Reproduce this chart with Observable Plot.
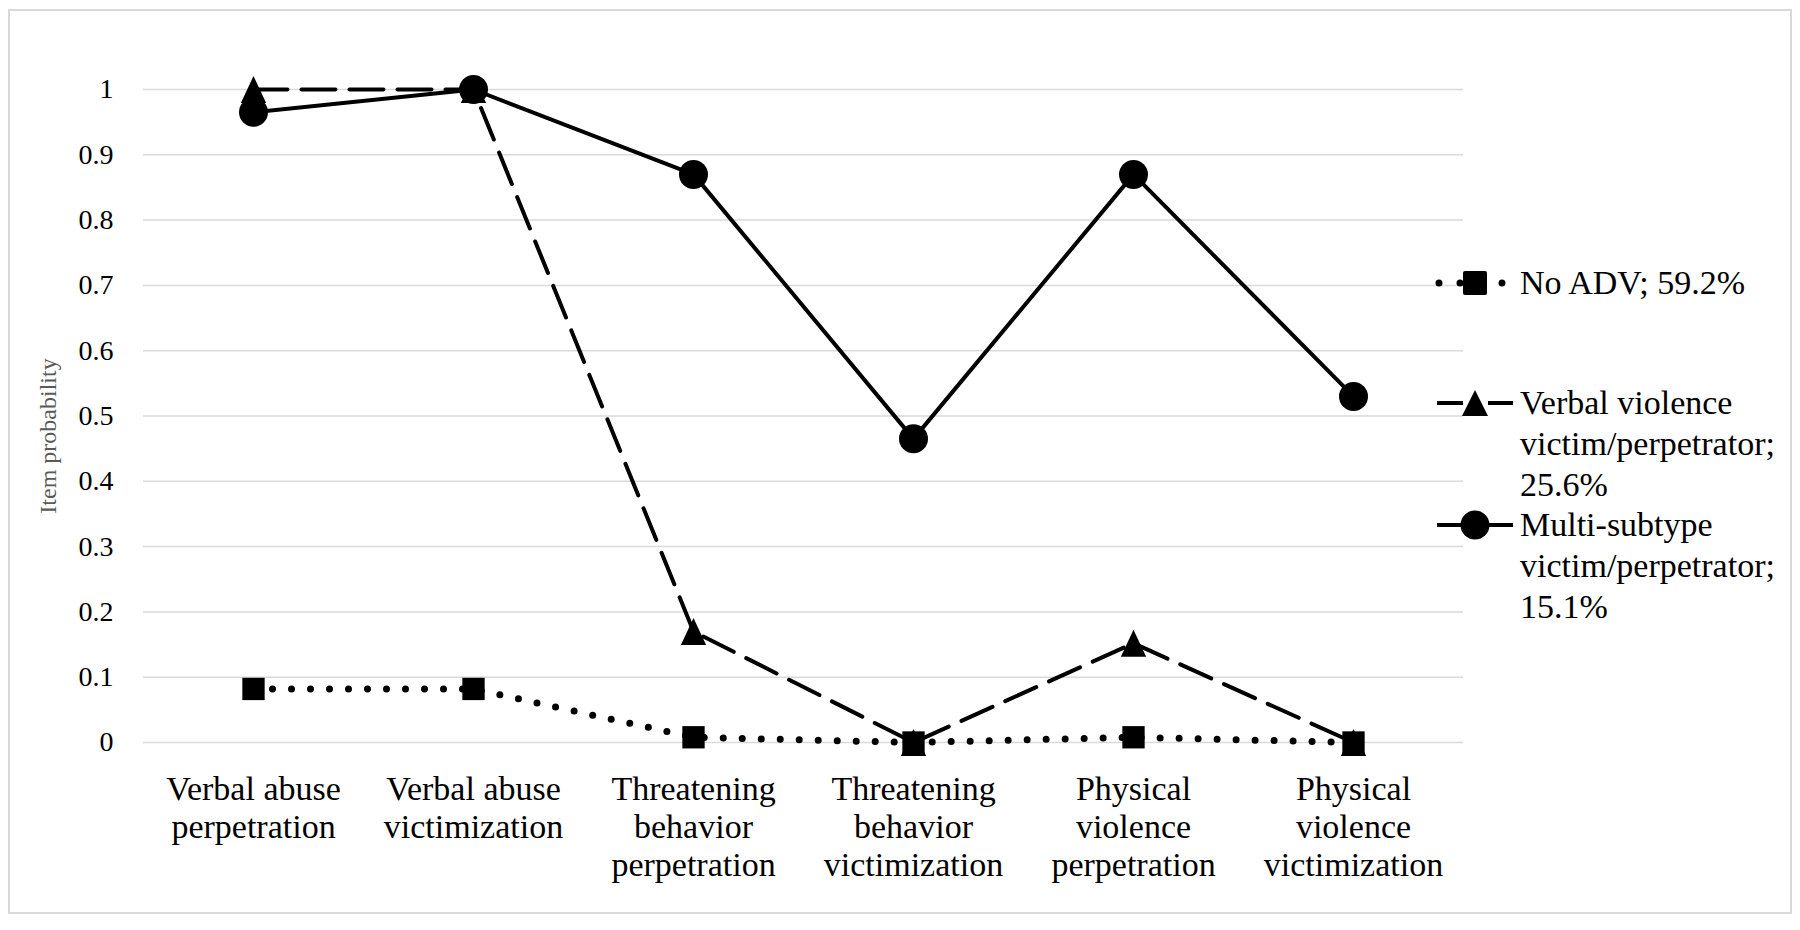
<!DOCTYPE html>
<html>
<head>
<meta charset="utf-8">
<script src="https://cdn.jsdelivr.net/npm/d3@7"></script>
<script src="https://cdn.jsdelivr.net/npm/@observablehq/plot@0.6"></script>
<style>
  html, body { margin: 0; padding: 0; background: #fff; }
  #wrap { position: relative; width: 1800px; height: 930px; overflow: hidden;
          font-family: "Liberation Serif", "Times New Roman", serif; }
  #border { position: absolute; left: 8px; top: 9px; width: 1784px; height: 905px;
            border: 2px solid #d9d9d9; box-sizing: border-box; }
  #chart { position: absolute; left: 0; top: 0; }
  #ytitle { position: absolute; left: 48px; top: 436px; transform: translate(-50%, -50%) rotate(-90deg);
            font-size: 24px; color: #595959; white-space: nowrap; }
  .legtext { position: absolute; left: 1520px; font-size: 34px; line-height: 41px; color: #000; white-space: nowrap; }
  .legsym { position: absolute; left: 1430px; width: 90px; height: 40px; }
</style>
</head>
<body>
<div id="wrap">
  <div id="border"></div>
  <div id="chart"></div>
  <div id="ytitle"></div>
  <div id="legend"></div>
</div>
<script>
// ---- Data ----
const categories = [
  "Verbal abuse perpetration",
  "Verbal abuse victimization",
  "Threatening behavior perpetration",
  "Threatening behavior victimization",
  "Physical violence perpetration",
  "Physical violence victimization"
];
const categoryLabels = [
  "Verbal abuse\nperpetration",
  "Verbal abuse\nvictimization",
  "Threatening\nbehavior\nperpetration",
  "Threatening\nbehavior\nvictimization",
  "Physical\nviolence\nperpetration",
  "Physical\nviolence\nvictimization"
];
const seriesNames = [
  "No ADV; 59.2%",
  "Verbal violence victim/perpetrator; 25.6%",
  "Multi-subtype victim/perpetrator; 15.1%"
];
const legendLines = [
  ["No ADV; 59.2%"],
  ["Verbal violence", "victim/perpetrator;", "25.6%"],
  ["Multi-subtype", "victim/perpetrator;", "15.1%"]
];
const noADV = [0.082, 0.082, 0.008, 0.0, 0.008, 0.0];
const verbalViolence = [1.0, 1.0, 0.17, 0.0, 0.152, 0.0];
const multiSubtype = [0.965, 1.0, 0.87, 0.465, 0.87, 0.53];
const yTicks = [0, 0.1, 0.2, 0.3, 0.4, 0.5, 0.6, 0.7, 0.8, 0.9, 1];
const yTitle = "Item probability";

const fontStack = "'Liberation Serif', 'Times New Roman', serif";

// ---- Build tables ----
const toRows = (vals, s) => categories.map((c, i) => ({category: c, value: vals[i], series: s}));
const rowsNo = toRows(noADV, seriesNames[0]);
const rowsVerbal = toRows(verbalViolence, seriesNames[1]);
const rowsMulti = toRows(multiSubtype, seriesNames[2]);
const labelOf = new Map(categories.map((c, i) => [c, categoryLabels[i]]));

// Excel-like triangle marker (bbox centered)
const triangleSymbol = {
  draw(context, size) {
    const r = Math.sqrt(size / Math.PI);
    const w = 2.2 * r, h = 2.35 * r;
    context.moveTo(0, -h / 2);
    context.lineTo(w / 2, h / 2);
    context.lineTo(-w / 2, h / 2);
    context.closePath();
  }
};

const chart = Plot.plot({
  width: 1800,
  height: 930,
  marginTop: 89,
  marginBottom: 188,
  marginLeft: 143,
  marginRight: 337,
  x: {type: "point", domain: categories, padding: 0.5},
  y: {domain: [0, 1]},
  style: {fontFamily: fontStack, background: "transparent", color: "#000"},
  marks: [
    Plot.gridY(yTicks, {stroke: "#d9d9d9", strokeOpacity: 1, strokeWidth: 1.5}),
    Plot.axisY(yTicks, {tickSize: 0, tickPadding: 30, fontSize: 28, label: null,
      tickFormat: d => String(Math.round(d * 10) / 10)}),
    Plot.axisX({tickSize: 0, tickPadding: 30, fontSize: 34, lineHeight: 1.12, label: null,
      tickFormat: d => labelOf.get(d)}),
    // No ADV: round dotted line with squares
    Plot.line(rowsNo, {x: "category", y: "value", stroke: "#000", strokeWidth: 7,
      strokeDasharray: "0 19", strokeLinecap: "round"}),
    Plot.dot(rowsNo, {x: "category", y: "value", symbol: "square", r: 12.6, fill: "#000", stroke: "none"}),
    // Verbal violence: long dash with triangles
    Plot.line(rowsVerbal, {x: "category", y: "value", stroke: "#000", strokeWidth: 4,
      strokeDasharray: "34 14"}),
    Plot.dot(rowsVerbal, {x: "category", y: "value", symbol: triangleSymbol, r: 11.5, fill: "#000", stroke: "none"}),
    // Multi-subtype: solid with circles
    Plot.line(rowsMulti, {x: "category", y: "value", stroke: "#000", strokeWidth: 4}),
    Plot.dot(rowsMulti, {x: "category", y: "value", symbol: "circle", r: 14.5, fill: "#000", stroke: "none"})
  ]
});
document.getElementById("chart").appendChild(chart);
document.getElementById("ytitle").textContent = yTitle;

// ---- Legend (right side) ----
const legendCenters = [283, 403, 525];
const legend = document.getElementById("legend");
const ns = "http://www.w3.org/2000/svg";
legendLines.forEach((lines, i) => {
  const t = document.createElement("div");
  t.className = "legtext";
  t.style.top = (legendCenters[i] - 21) + "px";
  t.innerHTML = lines.join("<br>");
  legend.appendChild(t);

  const svg = document.createElementNS(ns, "svg");
  svg.setAttribute("class", "legsym");
  svg.setAttribute("width", 90);
  svg.setAttribute("height", 40);
  svg.style.top = (legendCenters[i] - 20) + "px";
  const mk = (tag, attrs) => { const e = document.createElementNS(ns, tag); for (const k in attrs) e.setAttribute(k, attrs[k]); svg.appendChild(e); return e; };
  if (i === 0) {
    mk("line", {x1: 9, x2: 74, y1: 20, y2: 20, stroke: "#000", "stroke-width": 7, "stroke-dasharray": "0 21", "stroke-linecap": "round"});
    mk("rect", {x: 45 - 12, y: 8, width: 24, height: 24, rx: 2, fill: "#000"});
  } else if (i === 1) {
    mk("line", {x1: 7, x2: 83, y1: 20, y2: 20, stroke: "#000", "stroke-width": 4, "stroke-dasharray": "26 25 30"});
    mk("path", {d: "M45,7 L58,33 L32,33 Z", fill: "#000"});
  } else {
    mk("line", {x1: 7, x2: 83, y1: 20, y2: 20, stroke: "#000", "stroke-width": 4});
    mk("circle", {cx: 45, cy: 20, r: 14.5, fill: "#000"});
  }
  legend.appendChild(svg);
});
</script>
</body>
</html>
